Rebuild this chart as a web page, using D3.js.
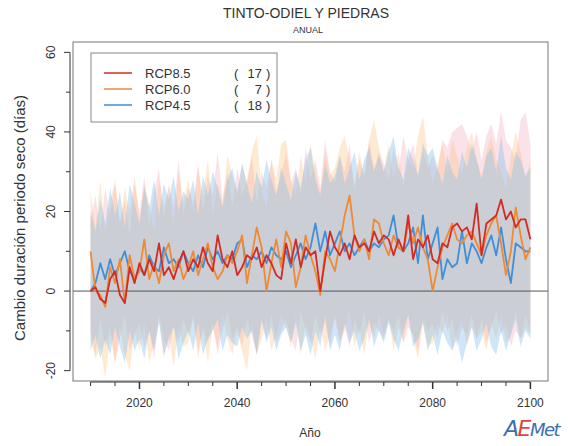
<!DOCTYPE html>
<html>
<head>
<meta charset="utf-8">
<script src="https://cdn.jsdelivr.net/npm/d3@7/dist/d3.min.js"></script>
<style>
  html, body { margin: 0; padding: 0; background: #fff; }
  svg { display: block; font-family: "Liberation Sans", Arial, sans-serif; }
</style>
</head>
<body>
<svg id="chart" width="568" height="446"></svg>
<script>
// Years of the annual series
const years = d3.range(2010, 2101);

// Ensemble means (change in dry-spell length, days)
const rcp85Mean = [0, 1, -2, -3, 3, 5, -1, -3, 6, 2,
  7, 4, 8, 5, 12, 4, 6, 3, 7, 10,
  5, 8, 6, 11, 7, 5, 14, 8, 6, 10,
  4, 6, 9, 8, 11, 6, 9, 7, 4, 3,
  12, 7, 13, 6, 11, 9, 10, 0, 8, 15,
  11, 9, 12, 8, 14, 11, 12, 10, 15, 12,
  14, 13, 9, 13, 10, 19, 8, 13, 11, 14,
  8, 7, 12, 11, 16, 17, 15, 16, 13, 22,
  9, 17, 18, 19, 23, 18, 20, 16, 18, 18, 13];
const rcp60Mean = [10, 0, -1, -4, 6, 2, 8, -3, 9, 3,
  5, 13, 3, 7, 2, 9, 12, 5, 8, 3,
  6, 10, 4, 8, 12, 6, 3, 5, 9, 7,
  10, 14, 2, 9, 16, 11, 0, 7, 13, 6,
  15, 12, 1, 6, 14, 9, 5, -1, 10, 8,
  5, 12, 19, 24, 14, 10, 13, 8, 18, 17,
  12, 9, 14, 11, 10, 17, 12, 16, 11, 8,
  0, 6, 11, 14, 17, 13, 12, 14, 15, 12,
  9, 14, 17, 19, 12, 4, 10, 21, 14, 8, 11];
const rcp45Mean = [0, 2, 7, 3, 8, 4, 7, 10, 5, 3,
  6, 4, 9, 6, 5, 11, 7, 8, 6, 10,
  7, 5, 9, 6, 11, 8, 10, 7, 9, 8,
  12, 13, 6, 9, 8, 10, 7, 11, 9, 8,
  10, 6, 9, 12, 8, 11, 17, 10, 15, 9,
  12, 15, 10, 12, 9, 11, 13, 10, 12, 11,
  13, 14, 19, 11, 10, 12, 16, 7, 19, 8,
  12, 16, 3, 8, 6, 7, 15, 7, 12, 10,
  7, 11, 14, 9, 16, 8, 2, 12, 11, 10, 10];

// Ensemble spread (upper / lower limits)
const rcp85High = [18, 24, 15, 26, 19, 28, 17, 23, 14, 27,
  20, 29, 16, 25, 31, 18, 27, 21, 33, 19,
  26, 22, 32, 20, 29, 24, 35, 23, 30, 21,
  31, 24, 28, 34, 22, 30, 26, 33, 25, 29,
  35, 27, 31, 24, 36, 28, 33, 26, 38, 30,
  27, 34, 30, 37, 25, 33, 29, 38, 31, 35,
  32, 28, 36, 30, 39, 33, 37, 29, 35, 31,
  34, 30, 38, 36, 40, 41, 42, 39, 35, 40,
  33, 39, 42, 37, 45, 38, 36, 33, 43, 45, 37];
const rcp85Low = [-10, -16, -7, -14, -9, -18, -12, -6, -15, -11,
  -8, -14, -10, -17, -6, -12, -15, -9, -13, -7,
  -11, -6, -15, -9, -13, -8, -16, -10, -5, -12,
  -9, -14, -7, -11, -16, -8, -12, -6, -13, -10,
  -7, -12, -15, -5, -10, -13, -6, -11, -8, -14,
  -6, -12, -9, -14, -7, -11, -5, -13, -8, -10,
  -12, -7, -10, -6, -13, -9, -11, -15, -7, -10,
  -8, -12, -5, -10, -7, -14, -9, -11, -6, -12,
  -7, -13, -9, -5, -11, -8, -14, -10, -12, -6, -10];
const rcp60High = [25, 16, 28, 14, 23, 27, 17, 26, 20, 29,
  18, 27, 22, 15, 28, 21, 26, 17, 30, 22,
  28, 20, 31, 24, 33, 19, 27, 22, 34, 29,
  24, 32, 27, 35, 39, 25, 21, 33, 28, 37,
  38, 28, 24, 34, 27, 37, 30, 25, 35, 29,
  31, 36, 39, 33, 27, 35, 29, 38, 43, 36,
  30, 37, 28, 35, 26, 33, 31, 39, 44, 34,
  27, 32, 37, 30, 38, 34, 29, 36, 40, 33,
  29, 35, 39, 33, 30, 26, 34, 40, 35, 28, 33];
const rcp60Low = [-12, -17, -14, -22, -11, -18, -9, -16, -20, -10,
  -15, -8, -18, -13, -7, -17, -11, -19, -9, -14,
  -13, -7, -17, -10, -18, -9, -14, -6, -12, -16,
  -10, -15, -20, -8, -16, -12, -7, -15, -11, -6,
  -9, -14, -6, -16, -8, -12, -17, -9, -15, -11,
  -7, -13, -10, -5, -14, -9, -16, -8, -12, -6,
  -11, -7, -15, -9, -13, -6, -12, -17, -8, -14,
  -13, -8, -11, -6, -15, -10, -7, -14, -9, -12,
  -10, -15, -8, -12, -6, -13, -11, -5, -12, -9, -11];
const rcp45High = [20, 15, 23, 17, 26, 19, 25, 16, 27, 22,
  17, 26, 21, 28, 19, 27, 23, 29, 20, 25,
  23, 28, 19, 29, 24, 30, 26, 21, 28, 31,
  25, 32, 27, 22, 30, 26, 33, 28, 24, 31,
  27, 23, 30, 26, 33, 36, 28, 24, 32, 27,
  29, 34, 27, 31, 35, 28, 33, 36, 30, 34,
  30, 35, 39, 31, 28, 36, 33, 29, 37, 34,
  36, 31, 27, 34, 30, 28, 35, 31, 37, 33,
  28, 34, 36, 30, 39, 31, 28, 35, 33, 29, 31];
const rcp45Low = [-15, -11, -17, -12, -16, -9, -14, -18, -10, -15,
  -12, -17, -10, -15, -8, -16, -12, -9, -17, -13,
  -10, -15, -8, -16, -12, -10, -7, -15, -11, -13,
  -14, -9, -12, -10, -16, -7, -13, -9, -15, -11,
  -9, -13, -8, -15, -11, -16, -10, -14, -6, -15,
  -11, -15, -8, -13, -10, -15, -12, -7, -14, -10,
  -13, -8, -12, -15, -10, -6, -14, -12, -8, -15,
  -11, -16, -10, -13, -15, -12, -18, -13, -9, -15,
  -12, -8, -14, -16, -10, -15, -11, -7, -14, -10, -12];

// Legend entries and model counts
const scenarioNames = ["RCP8.5", "RCP6.0", "RCP4.5"];
const modelCounts = [17, 7, 18];

// Axis ticks
const xMajorTicks = [2020, 2040, 2060, 2080, 2100];
const xMinorTicks = d3.range(2010, 2101, 5);
const yMajorTicks = [-20, 0, 20, 40, 60];
const yMinorTicks = d3.range(-20, 61, 10);

const scenarios = [
  { name: scenarioNames[0], n: modelCounts[0], mean: rcp85Mean, lo: rcp85Low, hi: rcp85High, line: "#d42a22", band: "#f2a2b6", bandOp: 0.32 },
  { name: scenarioNames[1], n: modelCounts[1], mean: rcp60Mean, lo: rcp60Low, hi: rcp60High, line: "#ee8a36", band: "#fcc48a", bandOp: 0.38 },
  { name: scenarioNames[2], n: modelCounts[2], mean: rcp45Mean, lo: rcp45Low, hi: rcp45High, line: "#3f8fd8", band: "#8ac3eb", bandOp: 0.42 }
];

const svg = d3.select("#chart");
const box = { left: 73, right: 548, top: 42, bottom: 381 };

const x = d3.scaleLinear().domain([2006.4, 2103.6]).range([box.left, box.right]);
const y = d3.scaleLinear().domain([-22.6, 62.6]).range([box.bottom, box.top]);

svg.append("defs").append("clipPath").attr("id", "plotClip")
  .append("rect").attr("x", box.left).attr("y", box.top)
  .attr("width", box.right - box.left).attr("height", box.bottom - box.top);

const plot = svg.append("g").attr("clip-path", "url(#plotClip)");

// Spread bands
const area = d3.area()
  .x((d, i) => x(years[i]))
  .y0(d => y(d[0]))
  .y1(d => y(d[1]));

scenarios.forEach(s => {
  const pts = years.map((yr, i) => [s.lo[i], s.hi[i]]);
  plot.append("path").datum(pts)
    .attr("d", area)
    .attr("fill", s.band)
    .attr("fill-opacity", s.bandOp)
    .attr("stroke", "none");
});

// Zero reference line
plot.append("line")
  .attr("x1", box.left).attr("x2", box.right)
  .attr("y1", y(0)).attr("y2", y(0))
  .attr("stroke", "#555").attr("stroke-width", 1);

// Mean lines (RCP4.5 first, RCP8.5 on top)
const line = d3.line().x((d, i) => x(years[i])).y(d => y(d));
scenarios.slice().reverse().forEach(s => {
  plot.append("path").datum(s.mean)
    .attr("d", line)
    .attr("fill", "none")
    .attr("stroke", s.line)
    .attr("stroke-width", 1.8)
    .attr("stroke-linejoin", "round");
});

// Frame
svg.append("rect")
  .attr("x", box.left).attr("y", box.top)
  .attr("width", box.right - box.left).attr("height", box.bottom - box.top)
  .attr("fill", "none").attr("stroke", "#777").attr("stroke-width", 1);

// X axis
const xAxisY = box.bottom + 1;
const gx = svg.append("g").attr("stroke", "#333");
gx.append("line").attr("x1", x(2010)).attr("x2", x(2100))
  .attr("y1", xAxisY).attr("y2", xAxisY).attr("stroke-width", 1.2);
gx.selectAll(".minor").data(xMinorTicks).enter().append("line")
  .attr("x1", d => x(d)).attr("x2", d => x(d))
  .attr("y1", xAxisY).attr("y2", d => xAxisY + (xMajorTicks.includes(d) ? 7 : 4))
  .attr("stroke-width", d => xMajorTicks.includes(d) ? 1.5 : 1);
svg.append("g").selectAll("text").data(xMajorTicks).enter().append("text")
  .attr("x", d => x(d)).attr("y", 407)
  .attr("text-anchor", "middle").attr("font-size", 12).attr("fill", "#333")
  .text(d => d);

// Y axis
const yAxisX = box.left - 3;
const gy = svg.append("g").attr("stroke", "#333");
gy.append("line").attr("x1", yAxisX).attr("x2", yAxisX)
  .attr("y1", y(-20)).attr("y2", y(60)).attr("stroke-width", 1);
gy.selectAll(".tick").data(yMinorTicks).enter().append("line")
  .attr("x1", yAxisX).attr("x2", d => yAxisX - (yMajorTicks.includes(d) ? 6 : 4))
  .attr("y1", d => y(d)).attr("y2", d => y(d));
svg.append("g").selectAll("text").data(yMajorTicks).enter().append("text")
  .attr("transform", d => `translate(55,${y(d)}) rotate(-90)`)
  .attr("text-anchor", "middle").attr("font-size", 12).attr("fill", "#333")
  .text(d => d);

// Axis titles
svg.append("text")
  .attr("transform", "translate(25,218) rotate(-90)")
  .attr("text-anchor", "middle").attr("font-size", 15).attr("fill", "#333")
  .text("Cambio duración periodo seco (días)");
svg.append("text")
  .attr("x", 310).attr("y", 437)
  .attr("text-anchor", "middle").attr("font-size", 12).attr("fill", "#333")
  .text("Año");

// Titles
svg.append("text")
  .attr("x", 306).attr("y", 18)
  .attr("text-anchor", "middle").attr("font-size", 14).attr("fill", "#333")
  .text("TINTO-ODIEL Y PIEDRAS");
svg.append("text")
  .attr("x", 308).attr("y", 33)
  .attr("text-anchor", "middle").attr("font-size", 9).attr("fill", "#333")
  .text("ANUAL");

// Legend
const lg = svg.append("g");
lg.append("rect").attr("x", 91).attr("y", 53).attr("width", 186).attr("height", 69)
  .attr("fill", "#fff").attr("stroke", "#888").attr("stroke-width", 1);
scenarios.forEach((s, i) => {
  const ly = 73 + i * 16;
  lg.append("line").attr("x1", 104).attr("x2", 132).attr("y1", ly).attr("y2", ly)
    .attr("stroke", s.line).attr("stroke-width", 1.5);
  lg.append("text").attr("x", 145).attr("y", ly + 5)
    .attr("font-size", 13).attr("fill", "#333").text(s.name);
  lg.append("text").attr("x", 234).attr("y", ly + 5)
    .attr("font-size", 13).attr("fill", "#333").text("(");
  lg.append("text").attr("x", 262).attr("y", ly + 5).attr("text-anchor", "end")
    .attr("font-size", 13).attr("fill", "#333").text(s.n);
  lg.append("text").attr("x", 266).attr("y", ly + 5)
    .attr("font-size", 13).attr("fill", "#333").text(")");
});

// AEMet mark
const logo = svg.append("text")
  .attr("x", 504).attr("y", 436)
  .attr("font-size", 22).attr("font-style", "italic")
  .attr("font-family", "'DejaVu Sans', sans-serif")
  .attr("letter-spacing", -1.5);
logo.append("tspan").attr("fill", "#3d6db3").text("A");
logo.append("tspan").attr("fill", "#e0463a").text("E");
logo.append("tspan").attr("fill", "#3d6db3").attr("font-size", 18).text("Met");
</script>
</body>
</html>
